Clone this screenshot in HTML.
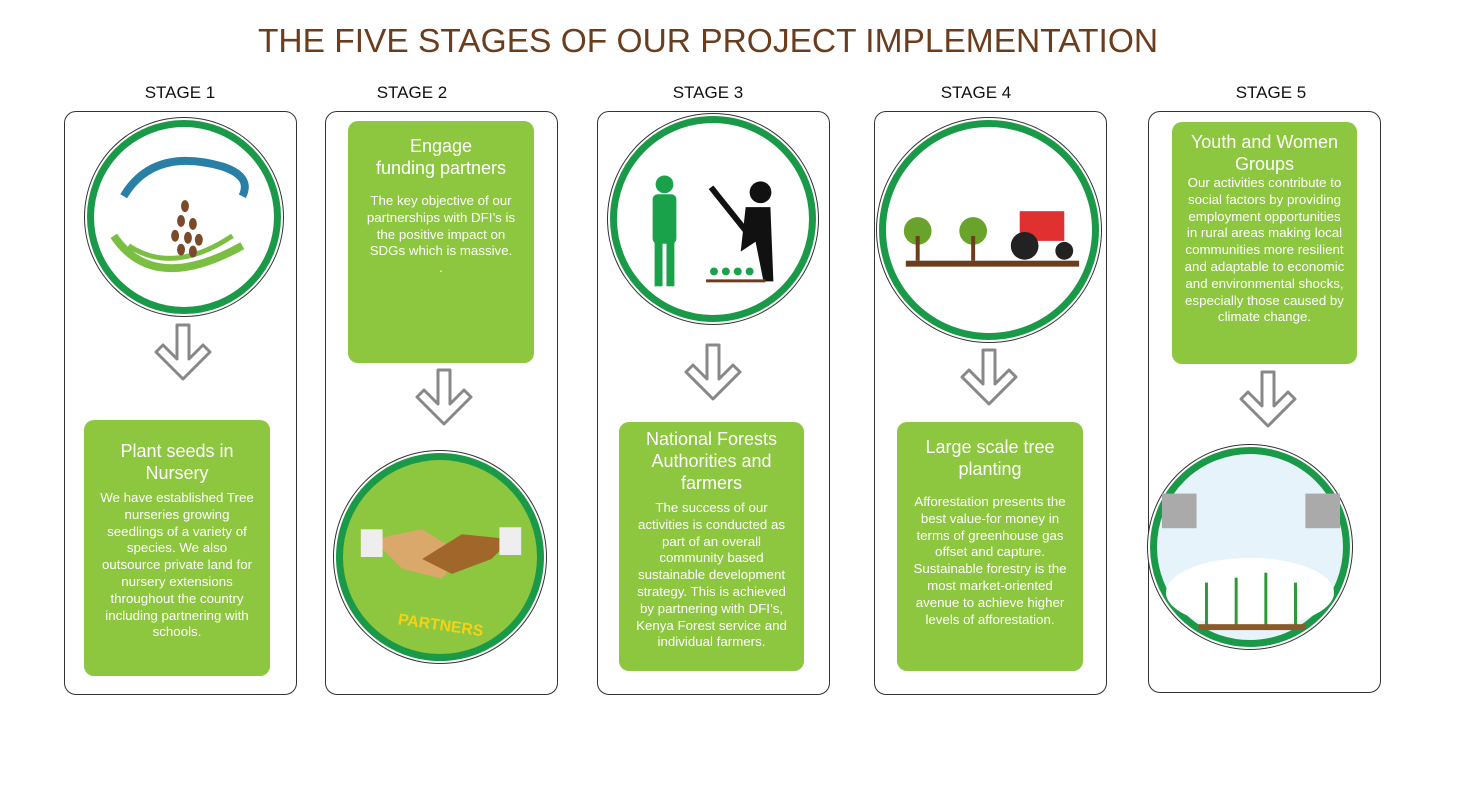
<!DOCTYPE html>
<html><head><meta charset="utf-8"><style>
body{margin:0;width:1466px;height:803px;background:#fff;position:relative;font-family:"Liberation Sans",sans-serif;overflow:hidden}
.a{position:absolute}
.title{left:0;width:1416px;top:22px;text-align:center;font-size:33px;color:#6b3d1c;font-family:"Liberation Sans Narrow","Liberation Sans",sans-serif;transform:scaleX(1.015);transform-origin:708px 0}
.lab{font-size:17px;color:#111;width:232px;text-align:center;top:83px}
.col{border:1.3px solid #333;border-radius:12px;width:231px;height:582px;top:111px}
.box{background:#8dc63f;border-radius:10px;color:#fff;text-align:center;box-sizing:border-box;padding:8px 12px}
.box h3{margin:0 0 6px;font-weight:normal;font-size:18px;line-height:22px}
.box p{margin:0;font-size:13.3px;line-height:16.8px}
.circ{border-radius:50%;border:7px solid #1a9a48;box-sizing:border-box;background:#fff;box-shadow:0 0 0 2px #fff,0 0 0 3px #333}
</style></head><body>
<div class="a title">THE FIVE STAGES OF OUR PROJECT IMPLEMENTATION</div>
<div class="a lab" style="left:64px">STAGE 1</div>
<div class="a lab" style="left:296px">STAGE 2</div>
<div class="a lab" style="left:592px">STAGE 3</div>
<div class="a lab" style="left:860px">STAGE 4</div>
<div class="a lab" style="left:1155px">STAGE 5</div>

<div class="a col" style="left:64px"></div>
<div class="a col" style="left:325px"></div>
<div class="a col" style="left:597px"></div>
<div class="a col" style="left:874px"></div>
<div class="a col" style="left:1148px;height:580px"></div>

<div class="a circ" style="left:87px;top:120px;width:194px;height:194px">
<svg width="180" height="180" viewBox="0 0 182 182"><path d="M30 70 Q60 20 130 40 Q160 50 150 70" stroke="#2a7fa6" stroke-width="8" fill="none"/><path d="M20 110 Q60 170 150 120" stroke="#7bbf42" stroke-width="8" fill="none"/><path d="M35 120 Q80 150 140 110" stroke="#7bbf42" stroke-width="5" fill="none"/><g fill="#7a4a2a"><ellipse cx="92" cy="80" rx="4" ry="6"/><ellipse cx="88" cy="95" rx="4" ry="6"/><ellipse cx="100" cy="98" rx="4" ry="6"/><ellipse cx="82" cy="110" rx="4" ry="6"/><ellipse cx="95" cy="112" rx="4" ry="6"/><ellipse cx="106" cy="114" rx="4" ry="6"/><ellipse cx="88" cy="124" rx="4" ry="6"/><ellipse cx="100" cy="126" rx="4" ry="6"/></g></svg></div>
<div class="a circ" style="left:610px;top:116px;width:206px;height:206px">
<svg width="192" height="192" viewBox="0 0 194 194"><g fill="#1aa24b"><circle cx="48" cy="62" r="9"/><rect x="36" y="72" width="24" height="50" rx="5"/><rect x="38" y="120" width="8" height="45"/><rect x="50" y="120" width="8" height="45"/></g><g fill="#111"><circle cx="145" cy="70" r="11"/><path d="M130 85 L155 85 L158 160 L148 160 L140 120 L125 130 Z"/><path d="M95 65 L135 115" stroke="#111" stroke-width="6"/></g><rect x="90" y="158" width="60" height="3" fill="#6b3d1c"/><g fill="#1aa24b"><circle cx="98" cy="150" r="4"/><circle cx="110" cy="150" r="4"/><circle cx="122" cy="150" r="4"/><circle cx="134" cy="150" r="4"/></g></svg></div>
<div class="a circ" style="left:879px;top:120px;width:220px;height:220px">
<svg width="206" height="206" viewBox="0 0 208 208"><rect x="20" y="135" width="175" height="6" fill="#6b3d1c"/><g fill="#6aa32b"><circle cx="32" cy="105" r="14"/><circle cx="88" cy="105" r="14"/></g><rect x="30" y="110" width="4" height="25" fill="#6b3d1c"/><rect x="86" y="110" width="4" height="25" fill="#6b3d1c"/><rect x="135" y="85" width="45" height="30" fill="#e03030"/><circle cx="140" cy="120" r="14" fill="#222"/><circle cx="180" cy="125" r="9" fill="#222"/></svg></div>
<div class="a circ" style="left:336px;top:453px;width:208px;height:208px;background:#8dc63f">
<svg width="194" height="194" viewBox="0 0 196 196"><path d="M30 80 L80 70 L120 95 L100 120 L60 110 Z" fill="#d9a86a"/><path d="M170 80 L120 75 L80 100 L110 115 L150 100 Z" fill="#a0662a"/><rect x="18" y="70" width="22" height="28" fill="#eee"/><rect x="158" y="68" width="22" height="28" fill="#eee"/><text x="98" y="172" text-anchor="middle" font-family="Liberation Sans" font-weight="bold" font-size="16" fill="#f5d21a" transform="rotate(8 98 172)">PARTNERS</text></svg></div>
<div class="a circ" style="left:1150px;top:447px;width:200px;height:200px;background:#e6f3fb">
<svg width="186" height="186" viewBox="0 0 188 188"><ellipse cx="94" cy="140" rx="85" ry="35" fill="#fff"/><g stroke="#2a9a3a" stroke-width="3"><line x1="50" y1="175" x2="50" y2="130"/><line x1="80" y1="175" x2="80" y2="125"/><line x1="110" y1="175" x2="110" y2="120"/><line x1="140" y1="175" x2="140" y2="130"/></g><rect x="42" y="172" width="108" height="6" fill="#8a5a2a"/><rect x="5" y="40" width="35" height="35" fill="#aaa"/><rect x="150" y="40" width="35" height="35" fill="#aaa"/></svg></div>

<svg class="a" style="left:0;top:0" width="1466" height="803">
<g fill="#fff" stroke="#888" stroke-width="3" stroke-linejoin="round">
<path d="M177 325 h12 v34 l14 -14 l7 7 l-27 27 l-27 -27 l7 -7 l14 14 z"/>
<path d="M438 370 h12 v34 l14 -14 l7 7 l-27 27 l-27 -27 l7 -7 l14 14 z"/>
<path d="M707 345 h12 v34 l14 -14 l7 7 l-27 27 l-27 -27 l7 -7 l14 14 z"/>
<path d="M983 350 h12 v34 l14 -14 l7 7 l-27 27 l-27 -27 l7 -7 l14 14 z"/>
<path d="M1262 372 h12 v34 l14 -14 l7 7 l-27 27 l-27 -27 l7 -7 l14 14 z"/>
</g></svg>

<div class="a box" style="left:84px;top:420px;width:186px;height:256px;padding:20px 14px 0"><h3>Plant seeds in<br>Nursery</h3><p>We have established Tree nurseries growing seedlings of a variety of species. We also outsource private land for nursery extensions throughout the country including partnering with schools.</p></div>
<div class="a box" style="left:348px;top:121px;width:186px;height:242px;padding:14px 14px 0"><h3 style="margin-bottom:14px">Engage<br>funding partners</h3><p>The key objective of our partnerships with DFI’s is the positive impact on SDGs which is massive.<br>.</p></div>
<div class="a box" style="left:619px;top:422px;width:185px;height:249px;padding:6px 16px 0"><h3>National Forests Authorities and farmers</h3><p>The success of our activities is conducted as part of an overall community based sustainable development strategy. This is achieved by partnering with DFI’s, Kenya Forest service and individual farmers.</p></div>
<div class="a box" style="left:897px;top:422px;width:186px;height:249px;padding:14px 14px 0"><h3 style="margin-bottom:14px">Large scale tree<br>planting</h3><p>Afforestation presents the best value-for money in terms of greenhouse gas offset and capture. Sustainable forestry is the most market-oriented avenue to achieve higher levels of afforestation.</p></div>
<div class="a box" style="left:1172px;top:122px;width:185px;height:242px;padding:9px 12px 0"><h3 style="margin-bottom:0">Youth and Women Groups</h3><p>Our activities contribute to social factors by providing employment opportunities in rural areas making local communities more resilient and adaptable to economic and environmental shocks, especially those caused by climate change.</p></div>
</body></html>
